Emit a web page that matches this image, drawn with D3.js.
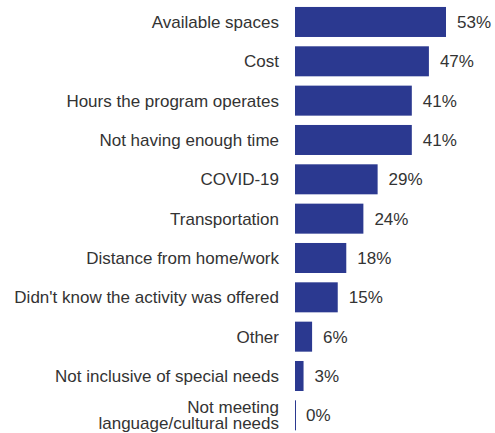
<!DOCTYPE html>
<html>
<head>
<meta charset="utf-8">
<title>Barriers</title>
<script src="https://d3js.org/d3.v7.min.js"></script>
<style>
  body { margin: 0; background: #fff; }
  svg text { font-family: "Liberation Sans", Arial, sans-serif; fill: #333; }
</style>
</head>
<body>
<svg id="chart" width="495" height="433"></svg>
<script>
// data
var categories = [
  "Available spaces",
  "Cost",
  "Hours the program operates",
  "Not having enough time",
  "COVID-19",
  "Transportation",
  "Distance from home/work",
  "Didn't know the activity was offered",
  "Other",
  "Not inclusive of special needs",
  "Not meeting\nlanguage/cultural needs"
];
var values = [53, 47, 41, 41, 29, 24, 18, 15, 6, 3, 0];

var barColor = "#2b3990";
var fontSize = 17;

var svg = d3.select("#chart");

var x = d3.scaleLinear()
    .domain([0, 53])
    .range([295, 446]);

var y = d3.scaleBand()
    .domain(d3.range(categories.length))
    .range([2.3, 435])
    .paddingInner(0.237)
    .paddingOuter(0.1185);

var rows = svg.selectAll("g.row")
  .data(values)
  .join("g")
    .attr("class", "row");

rows.append("rect")
    .attr("x", x(0))
    .attr("y", function(d, i) { return y(i); })
    .attr("width", function(d) { return Math.max(1, x(d) - x(0)); })
    .attr("height", y.bandwidth())
    .attr("fill", barColor);

rows.append("text")
    .attr("x", function(d) { return x(d) + 11; })
    .attr("y", function(d, i) { return y(i) + y.bandwidth() / 2; })
    .attr("dy", "0.35em")
    .style("font-size", fontSize + "px")
    .text(function(d) { return d + "%"; });

// category labels, right aligned, may wrap on "\n"
rows.append("text")
    .attr("text-anchor", "end")
    .style("font-size", fontSize + "px")
    .each(function(d, i) {
      var lines = categories[i].split("\n");
      var cy = y(i) + y.bandwidth() / 2;
      var lh = 16;
      var t = d3.select(this);
      lines.forEach(function(line, k) {
        t.append("tspan")
          .attr("x", 279)
          .attr("y", cy + (k - (lines.length - 1) / 2) * lh)
          .attr("dy", "0.35em")
          .text(line);
      });
    });
</script>
</body>
</html>
